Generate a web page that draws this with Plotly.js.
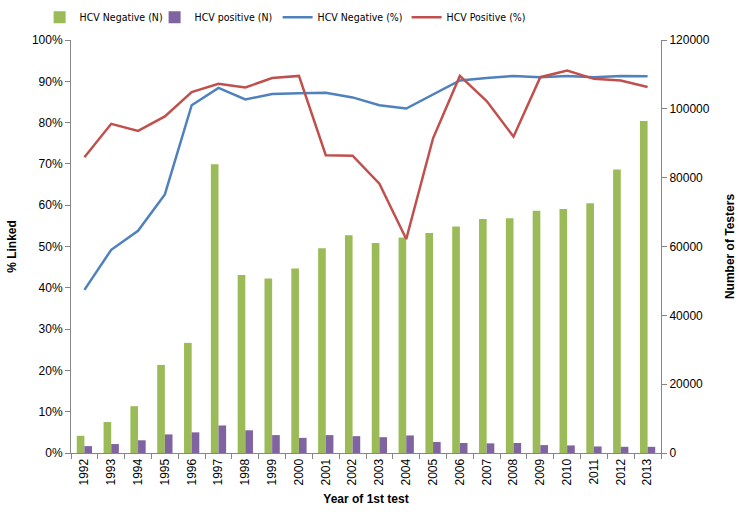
<!DOCTYPE html>
<html>
<head>
<meta charset="utf-8">
<script src="https://cdn.plot.ly/plotly-3.0.1.min.js"></script>
<style>
  html, body { margin: 0; padding: 0; background: #fff; }
  #chart { width: 740px; height: 517px; }
</style>
</head>
<body>
<div id="chart"></div>
<script>
// ---- Data ----
const years = ['1992','1993','1994','1995','1996','1997','1998','1999','2000','2001','2002',
               '2003','2004','2005','2006','2007','2008','2009','2010','2011','2012','2013'];

const negN = [5000, 9000, 13600, 25600, 32000, 83900, 51700, 50700, 53600, 59500, 63300,
              61000, 62600, 63900, 65800, 68000, 68200, 70400, 70900, 72600, 82400, 96500];
const posN = [2000, 2600, 3700, 5400, 6000, 8000, 6600, 5200, 4400, 5200, 4900,
              4600, 5100, 3200, 2900, 2800, 2900, 2300, 2200, 1900, 1800, 1800];

const negPct = [39.5, 49.2, 53.8, 62.6, 84.2, 88.4, 85.6, 86.9, 87.1, 87.2, 86.1,
                84.2, 83.4, 86.8, 90.2, 90.8, 91.3, 91.0, 91.3, 91.0, 91.3, 91.2];
const posPct = [71.6, 79.7, 78.0, 81.5, 87.4, 89.4, 88.5, 90.8, 91.3, 72.1, 72.0,
                65.2, 51.8, 76.2, 91.3, 85.2, 76.6, 91.0, 92.6, 90.6, 90.2, 88.6];

const font = {family: 'Liberation Sans, Arial, sans-serif', size: 12, color: '#000'};
const legendFont = {family: 'DejaVu Sans Condensed, Liberation Sans, sans-serif', size: 10.5};
const axisGrey = '#868686';

const traces = [
  {x: years, y: negN, type: 'bar', name: 'HCV Negative (N)', marker: {color: '#9BBB59'},
   yaxis: 'y', legend: 'legend'},
  {x: years, y: posN, type: 'bar', name: 'HCV positive (N)', marker: {color: '#8064A2'},
   yaxis: 'y', legend: 'legend2'},
  {x: years, y: negPct, type: 'scatter', mode: 'lines', name: 'HCV Negative (%)',
   line: {color: '#4F81BD', width: 2.5}, yaxis: 'y2', legend: 'legend3'},
  {x: years, y: posPct, type: 'scatter', mode: 'lines', name: 'HCV Positive (%)',
   line: {color: '#C0504D', width: 2.5}, yaxis: 'y2', legend: 'legend4'}
];

// one small legend per item, so the spacing can follow the reference
function legendAt(x) {
  return {orientation: 'h', x: x, xanchor: 'left', y: 1.055, yanchor: 'middle',
          font: legendFont, itemwidth: 30, bgcolor: 'rgba(0,0,0,0)'};
}

const layout = {
  width: 740, height: 517,
  margin: {l: 71, r: 79, t: 40, b: 64, autoexpand: false},
  paper_bgcolor: '#fff', plot_bgcolor: '#fff',
  font: font,
  showlegend: true,
  legend: legendAt(-0.0532),
  legend2: legendAt(0.1417),
  legend3: legendAt(0.3502),
  legend4: legendAt(0.5688),
  barmode: 'group',
  bargap: 0.43,
  bargroupgap: 0,
  xaxis: {
    type: 'category', tickangle: -90, showline: true, linecolor: axisGrey, linewidth: 1,
    ticks: 'outside', tickson: 'boundaries', ticklen: 5, tickcolor: axisGrey,
    showgrid: false, tickfont: {size: 12},
    title: {text: 'Year of 1st test', font: {size: 12, weight: 'bold'}, standoff: 10}
  },
  yaxis: {
    side: 'right', range: [0, 120000], dtick: 20000, tickformat: 'd', showline: true, linecolor: axisGrey,
    ticks: 'outside', ticklen: 5, tickcolor: axisGrey, showgrid: false, zeroline: false,
    tickfont: {size: 12},
    title: {text: 'Number of Testers', font: {size: 12, weight: 'bold'}, standoff: 16}
  },
  yaxis2: {
    side: 'left', overlaying: 'y', range: [0, 100], dtick: 10, ticksuffix: '%',
    showline: true, linecolor: axisGrey, ticks: 'outside', ticklen: 5, tickcolor: axisGrey,
    showgrid: false, zeroline: false, tickfont: {size: 12},
    title: {text: '% Linked', font: {size: 12, weight: 'bold'}, standoff: 12}
  }
};

Plotly.newPlot('chart', traces, layout, {displayModeBar: false, staticPlot: true});
</script>
</body>
</html>
